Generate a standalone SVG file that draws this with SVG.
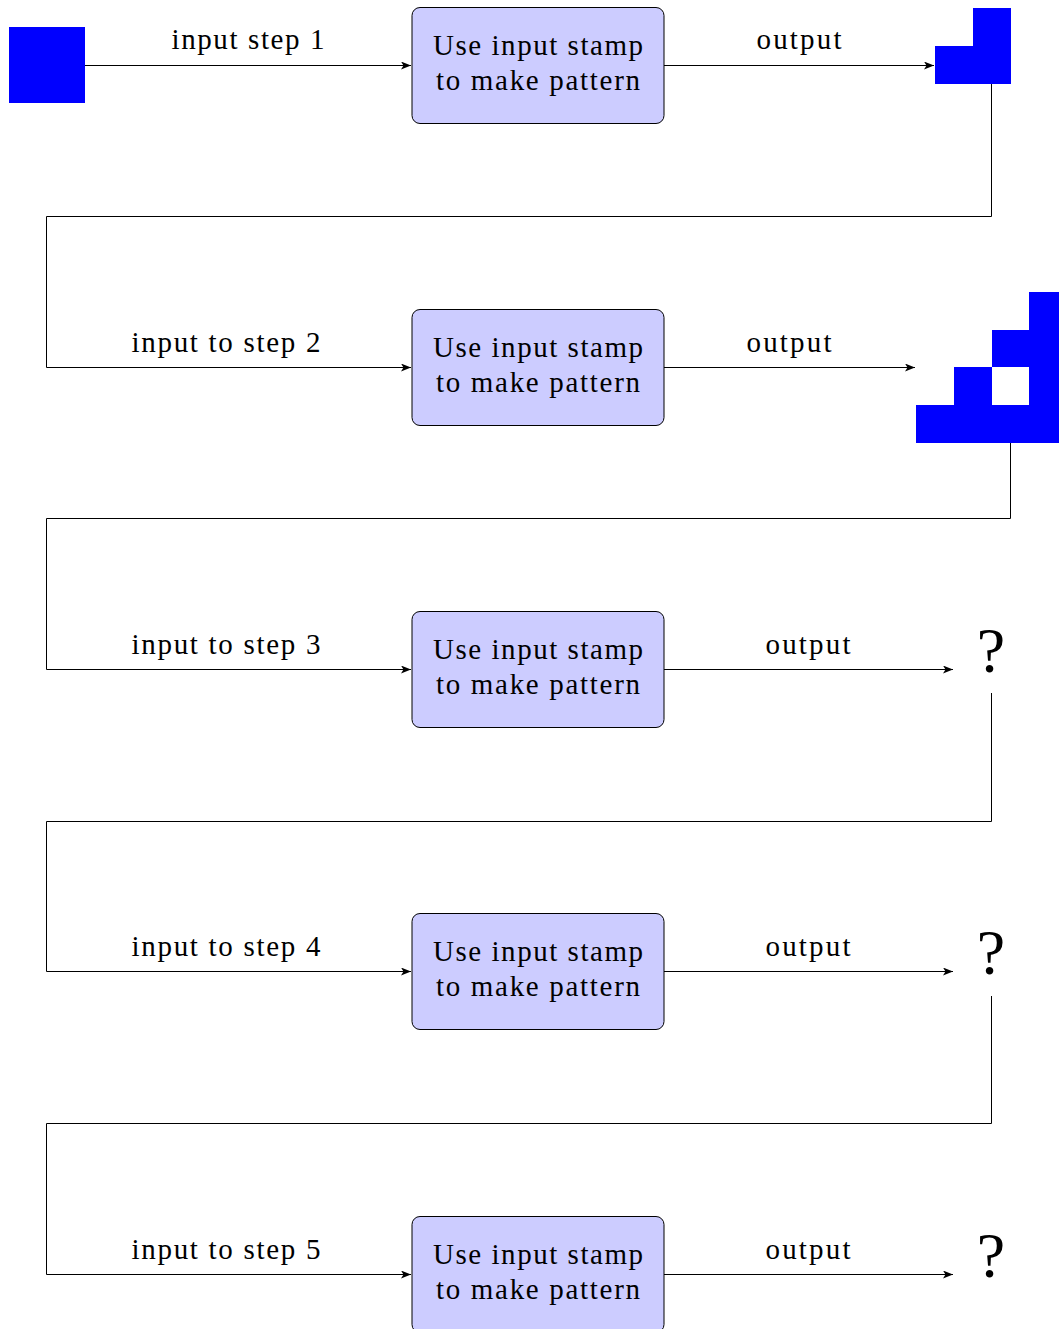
<svg xmlns="http://www.w3.org/2000/svg" width="1059" height="1329" viewBox="0 0 1059 1329">
<style>
.box{fill:#ccccff;stroke:#000;stroke-width:1}
.t{font-family:"Liberation Serif","DejaVu Serif",serif;font-size:29px;fill:#000;text-anchor:middle}
.q{font-family:"Liberation Serif","DejaVu Serif",serif;font-size:64px;fill:#000;text-anchor:middle}
.c{fill:none;stroke:#000;stroke-width:1}
.b{fill:#0000ff}
</style>
<defs>
<marker id="ah" viewBox="0 0 10 8" refX="10" refY="4" markerWidth="10" markerHeight="8" markerUnits="userSpaceOnUse" orient="auto">
<path d="M0,0 L10,4 L0,8 L2.5,4 Z" fill="#000"/>
</marker>
</defs>
<rect width="1059" height="1329" fill="#fff"/>
<g id="connectors">
<path class="c" d="M85,65.5 H411" marker-end="url(#ah)"/>
<path class="c" d="M664,65.5 H934" marker-end="url(#ah)"/>
<path class="c" d="M991.5,84 V216.5 H46.5 V367.5 H411" marker-end="url(#ah)"/>
<path class="c" d="M664,367.5 H915" marker-end="url(#ah)"/>
<path class="c" d="M1010.5,443 V518.5 H46.5 V669.5 H411" marker-end="url(#ah)"/>
<path class="c" d="M664,669.5 H953" marker-end="url(#ah)"/>
<path class="c" d="M991.5,693 V821.5 H46.5 V971.5 H411" marker-end="url(#ah)"/>
<path class="c" d="M664,971.5 H953" marker-end="url(#ah)"/>
<path class="c" d="M991.5,996 V1123.5 H46.5 V1274.5 H411" marker-end="url(#ah)"/>
<path class="c" d="M664,1274.5 H953" marker-end="url(#ah)"/>
<text class="t" x="248" y="49" textLength="153" lengthAdjust="spacing">input step 1</text>
<text class="t" x="799" y="49" textLength="85" lengthAdjust="spacing">output</text>
<text class="t" x="226" y="352" textLength="189" lengthAdjust="spacing">input to step 2</text>
<text class="t" x="789" y="352" textLength="85" lengthAdjust="spacing">output</text>
<text class="t" x="226" y="654" textLength="189" lengthAdjust="spacing">input to step 3</text>
<text class="t" x="808" y="654" textLength="85" lengthAdjust="spacing">output</text>
<text class="t" x="226" y="956" textLength="189" lengthAdjust="spacing">input to step 4</text>
<text class="t" x="808" y="956" textLength="85" lengthAdjust="spacing">output</text>
<text class="t" x="226" y="1259" textLength="189" lengthAdjust="spacing">input to step 5</text>
<text class="t" x="808" y="1259" textLength="85" lengthAdjust="spacing">output</text>
</g>
<g id="input1"><rect class="b" x="9" y="27" width="76" height="76"/></g>
<g id="step1"><rect class="box" x="412" y="7.5" width="252" height="116" rx="8"/><text class="t" x="538" y="54.5" textLength="210" lengthAdjust="spacing">Use input stamp</text><text class="t" x="538" y="90" textLength="204" lengthAdjust="spacing">to make pattern</text></g>
<g id="output1"><rect class="b" x="973" y="8" width="38" height="38"/><rect class="b" x="935" y="46" width="76" height="38"/></g>
<g id="step2"><rect class="box" x="412" y="309.5" width="252" height="116" rx="8"/><text class="t" x="538" y="356.5" textLength="210" lengthAdjust="spacing">Use input stamp</text><text class="t" x="538" y="392" textLength="204" lengthAdjust="spacing">to make pattern</text></g>
<g id="output2"><path class="b" d="M1029,292 H1068 V443 H916 V405 H954 V367 H992 V330 H1029 Z M992,367 V405 H1029 V367 Z" fill-rule="evenodd"/></g>
<g id="step3"><rect class="box" x="412" y="611.5" width="252" height="116" rx="8"/><text class="t" x="538" y="658.5" textLength="210" lengthAdjust="spacing">Use input stamp</text><text class="t" x="538" y="694" textLength="204" lengthAdjust="spacing">to make pattern</text></g>
<g id="output3"><text class="q" x="991" y="672">?</text></g>
<g id="step4"><rect class="box" x="412" y="913.5" width="252" height="116" rx="8"/><text class="t" x="538" y="960.5" textLength="210" lengthAdjust="spacing">Use input stamp</text><text class="t" x="538" y="996" textLength="204" lengthAdjust="spacing">to make pattern</text></g>
<g id="output4"><text class="q" x="991" y="974">?</text></g>
<g id="step5"><rect class="box" x="412" y="1216.5" width="252" height="116" rx="8"/><text class="t" x="538" y="1263.5" textLength="210" lengthAdjust="spacing">Use input stamp</text><text class="t" x="538" y="1299" textLength="204" lengthAdjust="spacing">to make pattern</text></g>
<g id="output5"><text class="q" x="991" y="1277">?</text></g>
</svg>
